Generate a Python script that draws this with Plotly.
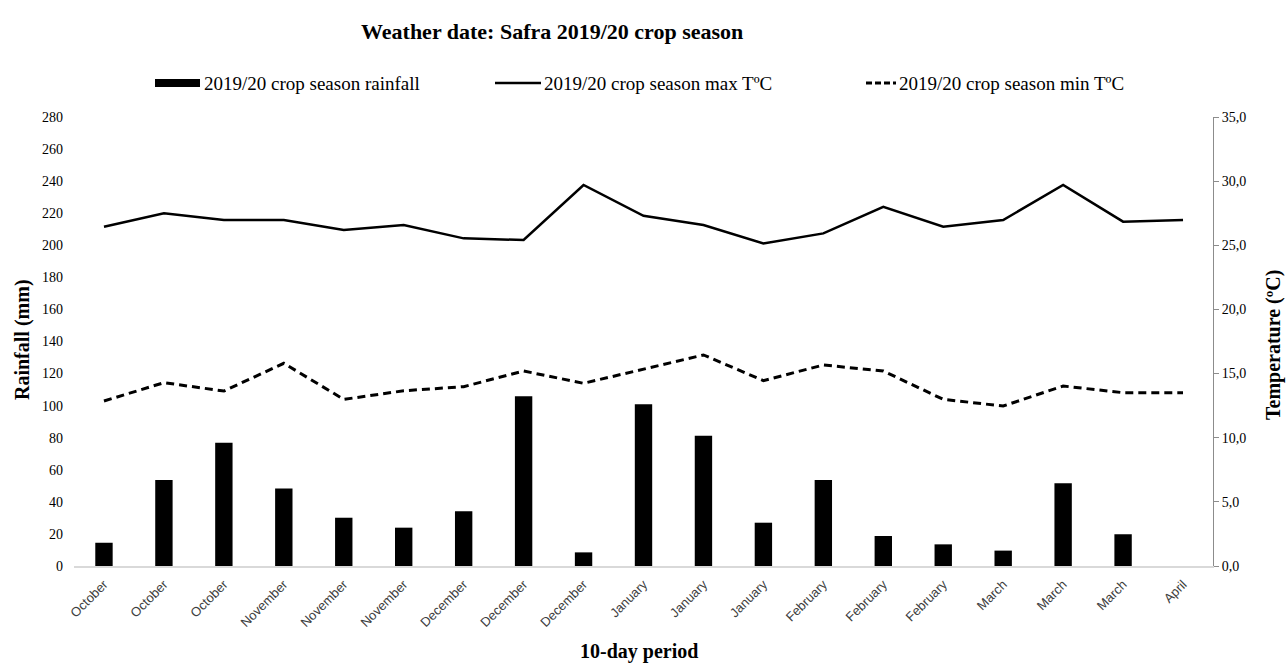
import plotly.graph_objects as go

# 10-day periods of the 2019/20 crop season
periods = ["October", "October", "October", "November", "November", "November",
           "December", "December", "December", "January", "January", "January",
           "February", "February", "February", "March", "March", "March", "April"]

rainfall_mm = [14.5, 53.6, 76.9, 48.4, 30.1, 23.9, 34.1, 105.8, 8.5, 100.8,
               81.3, 27.0, 53.6, 18.7, 13.5, 9.6, 51.6, 19.8, 0.0]

max_temp_c = [26.45, 27.5, 26.97, 26.97, 26.19, 26.58, 25.54, 25.41, 29.7, 27.3,
              26.58, 25.15, 25.93, 28.0, 26.45, 26.97, 29.7, 26.84, 26.97]

min_temp_c = [12.86, 14.29, 13.64, 15.8, 12.99, 13.66, 13.98, 15.2, 14.24, 15.35,
              16.45, 14.45, 15.67, 15.2, 12.99, 12.47, 14.03, 13.51, 13.51]

rain_ticks = list(range(0, 281, 20))
temp_ticks = [0, 5, 10, 15, 20, 25, 30, 35]
temp_ticktext = [f"{t:.1f}".replace(".", ",") for t in temp_ticks]

idx = list(range(len(periods)))

SERIF = "Liberation Serif, Times New Roman, serif"
SANS = "Liberation Sans, Arial, sans-serif"

fig = go.Figure()

fig.add_trace(go.Bar(
    x=idx, y=rainfall_mm, name="2019/20 crop season rainfall",
    marker=dict(color="black", line=dict(width=0)), width=0.29,
    showlegend=False, yaxis="y",
))
fig.add_trace(go.Scatter(
    x=idx, y=max_temp_c, name="2019/20 crop season max T\u00baC",
    mode="lines", line=dict(color="black", width=2.5),
    showlegend=False, yaxis="y2",
))
fig.add_trace(go.Scatter(
    x=idx, y=min_temp_c, name="2019/20 crop season min T\u00baC",
    mode="lines", line=dict(color="black", width=3, dash="8px,5px"),
    showlegend=False, yaxis="y2",
))

W, H = 1287, 667
L, R, T, B = 74, 74, 117, 101
pw = W - L - R
ph = H - T - B


def px(xp):
    return (xp - L) / pw


def py(yp):
    return (H - B - yp) / ph


shapes = []
annotations = []

# Legend row drawn by hand: symbol + label for each series
legend_y = 83
shapes.append(dict(type="rect", xref="paper", yref="paper",
                   x0=px(155), x1=px(200), y0=py(legend_y + 4), y1=py(legend_y - 4),
                   fillcolor="black", line=dict(width=0)))
shapes.append(dict(type="line", xref="paper", yref="paper",
                   x0=px(495), x1=px(541), y0=py(legend_y), y1=py(legend_y),
                   line=dict(color="black", width=2.5)))
shapes.append(dict(type="line", xref="paper", yref="paper",
                   x0=px(866), x1=px(896), y0=py(legend_y), y1=py(legend_y),
                   line=dict(color="black", width=3, dash="6px,3px")))
for x0, txt in [(202, "2019/20 crop season rainfall"),
                (542, "2019/20 crop season max T\u00baC"),
                (897, "2019/20 crop season min T\u00baC")]:
    annotations.append(dict(text=txt, xref="paper", yref="paper",
                            x=px(x0), y=py(legend_y), xanchor="left", yanchor="middle",
                            showarrow=False, font=dict(family=SERIF, size=19, color="black")))

# Title
annotations.append(dict(text="<b>Weather date: Safra 2019/20 crop season</b>",
                        xref="paper", yref="paper", x=px(552), y=py(31),
                        xanchor="center", yanchor="middle", showarrow=False,
                        font=dict(family=SERIF, size=22, color="black")))

# Axis titles
annotations.append(dict(text="<b>Rainfall (mm)</b>", xref="paper", yref="paper",
                        x=px(22), y=py(340), textangle=-90, xanchor="center", yanchor="middle",
                        showarrow=False, font=dict(family=SERIF, size=20, color="black")))
annotations.append(dict(text="<b>Temperature (\u00baC)</b>", xref="paper", yref="paper",
                        x=px(1273), y=py(345), textangle=-90, xanchor="center", yanchor="middle",
                        showarrow=False, font=dict(family=SERIF, size=20, color="black")))
annotations.append(dict(text="<b>10-day period</b>", xref="paper", yref="paper",
                        x=px(639), y=py(651), xanchor="center", yanchor="middle",
                        showarrow=False, font=dict(family=SERIF, size=20, color="black")))

fig.update_layout(
    width=W, height=H,
    margin=dict(l=L, r=R, t=T, b=B, pad=0),
    paper_bgcolor="white", plot_bgcolor="white",
    bargap=0.7,
    xaxis=dict(
        range=[-0.5, len(periods) - 0.5],
        tickmode="array", tickvals=idx, ticktext=periods,
        tickangle=-45, tickfont=dict(family=SANS, size=13, color="#404040"),
        showgrid=False, zeroline=False,
        showline=True, linecolor="#d9d9d9", linewidth=1.5,
        ticks="", fixedrange=True, ticklabelstandoff=4,
    ),
    yaxis=dict(
        range=[0, 280], tickmode="array", tickvals=rain_ticks,
        tickfont=dict(family=SERIF, size=14, color="black"),
        showgrid=False, zeroline=False, showline=False, ticks="",
        ticklabelstandoff=10,
    ),
    yaxis2=dict(
        range=[0, 35], overlaying="y", side="right",
        tickmode="array", tickvals=temp_ticks, ticktext=temp_ticktext,
        tickfont=dict(family=SERIF, size=14, color="black"),
        showgrid=False, zeroline=False,
        showline=True, linecolor="#8c8c8c", linewidth=1,
        ticks="outside", ticklen=5, tickcolor="#8c8c8c",
    ),
    shapes=shapes,
    annotations=annotations,
)

fig.write_html("out.html")
